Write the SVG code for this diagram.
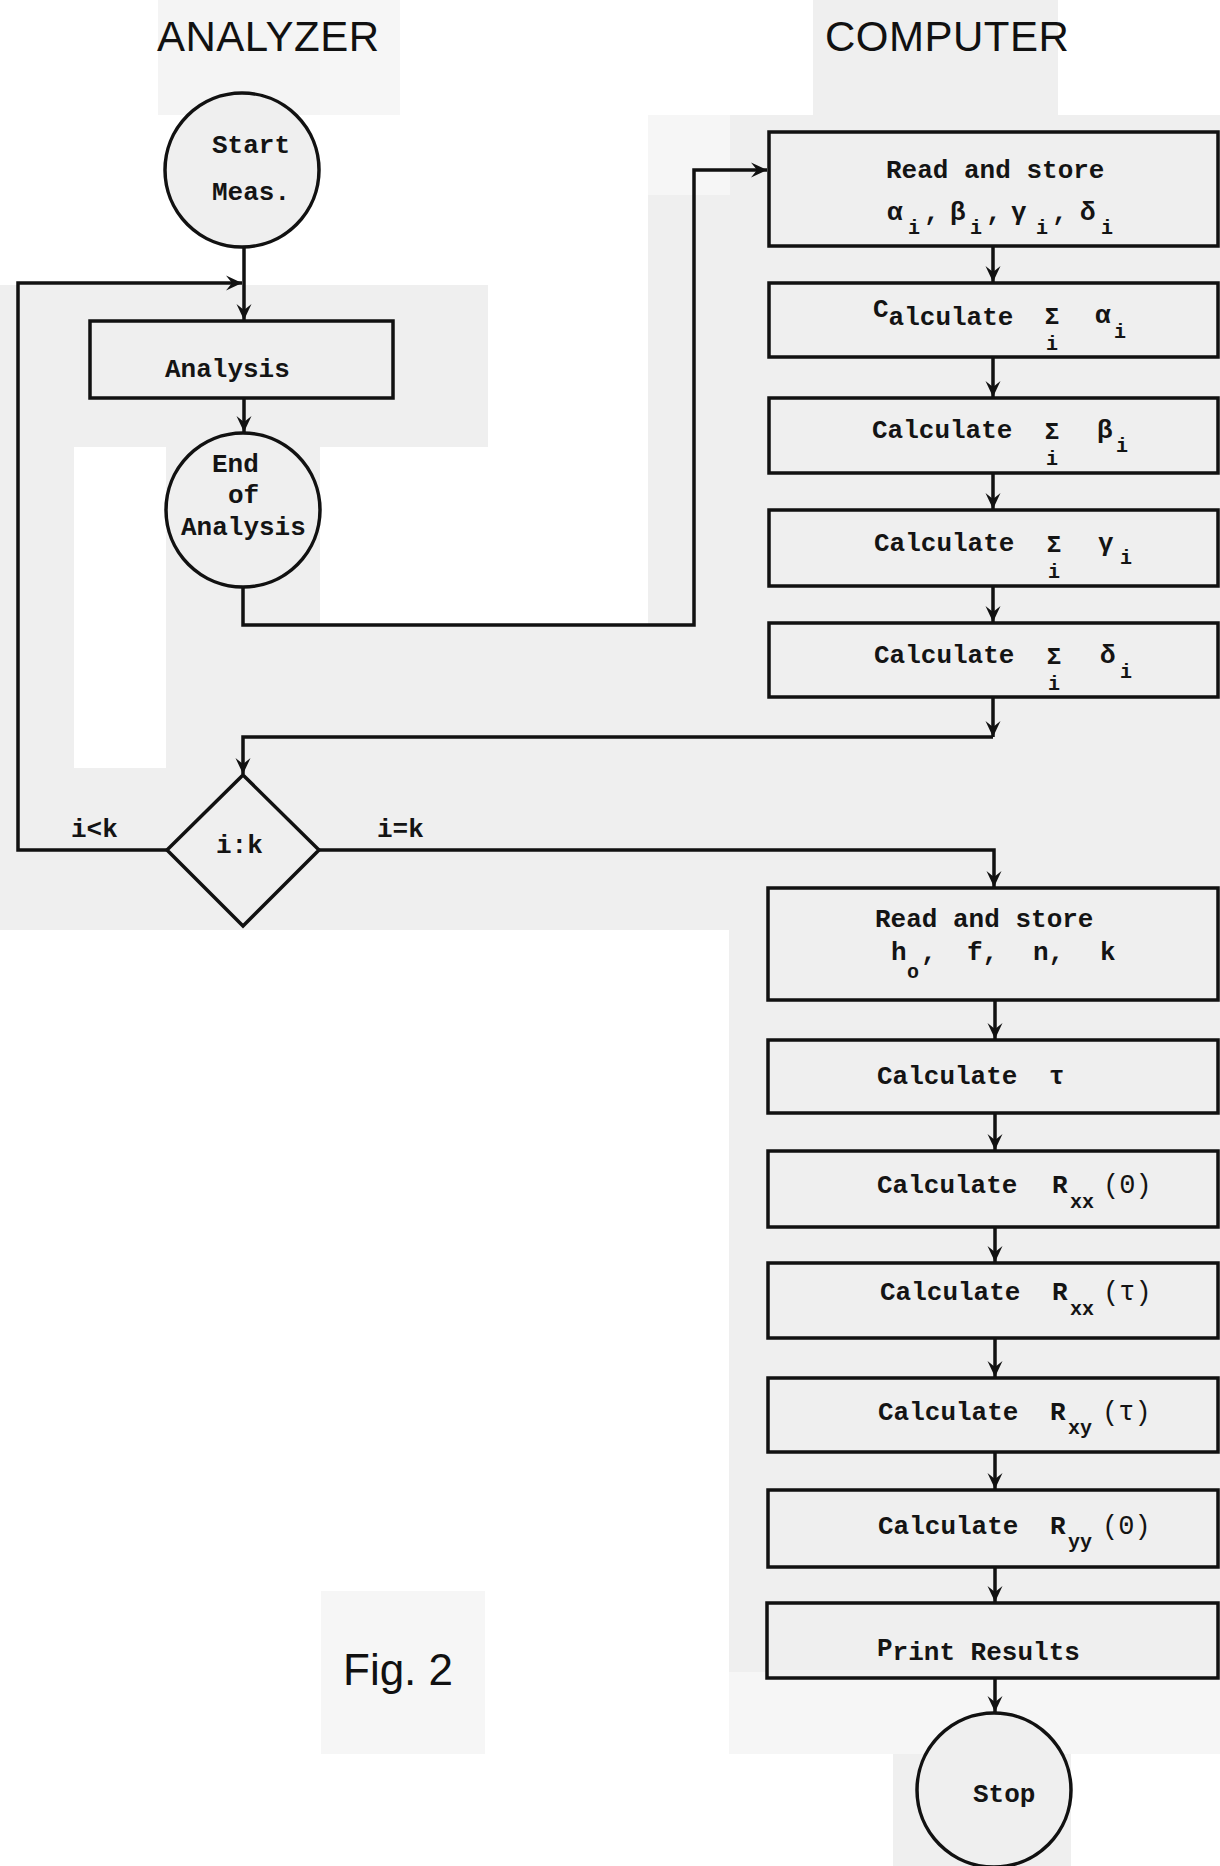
<svg xmlns="http://www.w3.org/2000/svg" width="1220" height="1866" viewBox="0 0 1220 1866">
<defs>
<style>
.bg{fill:#efefef}
.lg{fill:#f6f6f6}
.wb{fill:#ffffff}
.box{fill:#efefef;stroke:#111;stroke-width:3.5}
.ln{fill:none;stroke:#111;stroke-width:3.5}
.t{font-family:"Liberation Mono","DejaVu Sans Mono",monospace;font-size:26px;font-weight:bold;fill:#141414}
.s{font-family:"Liberation Mono","DejaVu Sans Mono",monospace;font-size:20px;font-weight:bold;fill:#141414}
.sg{font-family:"Liberation Mono","DejaVu Sans Mono",monospace;font-size:24px;font-weight:bold;fill:#141414}
.p{font-family:"Liberation Mono","DejaVu Sans Mono",monospace;font-size:27px;fill:#141414}
.h{font-family:"Liberation Sans","DejaVu Sans",sans-serif;font-size:42px;fill:#111;letter-spacing:0.5px}
</style>
<marker id="ah" viewBox="-17 -8 18 16" refX="0" refY="0" markerWidth="18" markerHeight="16" markerUnits="userSpaceOnUse" orient="auto">
<path d="M0,0 L-16,-7.5 L-10,0 L-16,7.5 Z" fill="#111"/>
</marker>
</defs>

<g id="background">
<rect x="0" y="0" width="1220" height="1866" class="wb"/>
<rect x="0" y="285" width="488" height="645" class="bg"/>
<rect x="74" y="447" width="92" height="321" class="wb"/>
<rect x="320" y="447" width="245" height="178" class="wb"/>
<rect x="320" y="625" width="420" height="305" class="bg"/>
<rect x="648" y="115" width="82" height="80" class="lg"/>
<rect x="648" y="195" width="572" height="735" class="bg"/>
<rect x="730" y="115" width="490" height="80" class="bg"/>
<rect x="729" y="930" width="491" height="742" class="bg"/>
<rect x="729" y="1672" width="491" height="82" class="lg"/>
<rect x="893" y="1754" width="178" height="112" class="bg"/>
<rect x="158" y="0" width="162" height="115" class="bg" opacity="0.7"/>
<rect x="320" y="0" width="80" height="115" class="lg"/>
<rect x="813" y="0" width="245" height="115" class="bg"/>
<rect x="321" y="1591" width="164" height="163" class="lg"/>
</g>

<g id="headers">
<text class="h" x="157" y="51">ANALYZER</text>
<text class="h" x="825" y="51">COMPUTER</text>
<text class="h" x="343" y="1685" style="font-size:44px;letter-spacing:0">Fig. 2</text>
</g>

<g id="connectors">
<line class="ln" x1="244" y1="247" x2="244" y2="320" marker-end="url(#ah)"/>
<path class="ln" d="M167,850 H18 V283 H242" marker-end="url(#ah)"/>
<line class="ln" x1="244" y1="398" x2="244" y2="432" marker-end="url(#ah)"/>
<path class="ln" d="M243,587 V625 H694 V170 H767" marker-end="url(#ah)"/>
<line class="ln" x1="993" y1="246" x2="993" y2="282" marker-end="url(#ah)"/>
<line class="ln" x1="993" y1="357" x2="993" y2="397" marker-end="url(#ah)"/>
<line class="ln" x1="993" y1="473" x2="993" y2="509" marker-end="url(#ah)"/>
<line class="ln" x1="993" y1="586" x2="993" y2="622" marker-end="url(#ah)"/>
<line class="ln" x1="993" y1="697" x2="993" y2="737" marker-end="url(#ah)"/>
<path class="ln" d="M993,737 H243 V774" marker-end="url(#ah)"/>
<path class="ln" d="M319,850 H994 V887" marker-end="url(#ah)"/>
<line class="ln" x1="995" y1="1000" x2="995" y2="1039" marker-end="url(#ah)"/>
<line class="ln" x1="995" y1="1113" x2="995" y2="1150" marker-end="url(#ah)"/>
<line class="ln" x1="995" y1="1227" x2="995" y2="1262" marker-end="url(#ah)"/>
<line class="ln" x1="995" y1="1338" x2="995" y2="1377" marker-end="url(#ah)"/>
<line class="ln" x1="995" y1="1452" x2="995" y2="1489" marker-end="url(#ah)"/>
<line class="ln" x1="995" y1="1567" x2="995" y2="1602" marker-end="url(#ah)"/>
<line class="ln" x1="995" y1="1678" x2="995" y2="1712" marker-end="url(#ah)"/>
<text class="t" x="71" y="837">i&lt;k</text>
<text class="t" x="377" y="837">i=k</text>
</g>

<g id="n-start">
<circle class="box" cx="242" cy="170" r="77"/>
<text class="t" x="212" y="153">Start</text>
<text class="t" x="212" y="200">Meas.</text>
</g>

<g id="n-analysis">
<rect class="box" x="90" y="321" width="303" height="77"/>
<text class="t" x="165" y="377">Analysis</text>
</g>

<g id="n-end">
<circle class="box" cx="243" cy="510" r="77"/>
<text class="t" x="212" y="472">End</text>
<text class="t" x="228" y="503">of</text>
<text class="t" x="181" y="535">Analysis</text>
</g>

<g id="n-decision">
<polygon class="box" points="243,775 319,850 243,926 167,850"/>
<text class="t" x="216" y="853">i:k</text>
</g>

<g id="n-read1">
<rect class="box" x="769" y="132" width="449" height="114"/>
<text class="t" x="886" y="178">Read and store</text>
<text class="t" x="887" y="220">α</text><text class="s" x="908" y="234">i</text><text class="t" x="924" y="220">,</text>
<text class="t" x="950" y="220">β</text><text class="s" x="970" y="234">i</text><text class="t" x="986" y="220">,</text>
<text class="t" x="1011" y="220">γ</text><text class="s" x="1036" y="234">i</text><text class="t" x="1052" y="220">,</text>
<text class="t" x="1080" y="220">δ</text><text class="s" x="1101" y="234">i</text>
</g>

<g id="n-sum-alpha">
<rect class="box" x="769" y="283" width="449" height="74"/>
<text class="t" x="873" y="325"><tspan dy="-8">C</tspan><tspan dy="8">alculate</tspan></text>
<text class="sg" x="1052" y="324" text-anchor="middle">Σ</text><text class="s" x="1052" y="350" text-anchor="middle">i</text>
<text class="t" x="1095" y="323">α</text><text class="s" x="1114" y="338">i</text>
</g>

<g id="n-sum-beta">
<rect class="box" x="769" y="398" width="449" height="75"/>
<text class="t" x="872" y="438">Calculate</text>
<text class="sg" x="1052" y="439" text-anchor="middle">Σ</text><text class="s" x="1052" y="465" text-anchor="middle">i</text>
<text class="t" x="1097" y="438">β</text><text class="s" x="1116" y="452">i</text>
</g>

<g id="n-sum-gamma">
<rect class="box" x="769" y="510" width="449" height="76"/>
<text class="t" x="874" y="551">Calculate</text>
<text class="sg" x="1054" y="552" text-anchor="middle">Σ</text><text class="s" x="1054" y="578" text-anchor="middle">i</text>
<text class="t" x="1098" y="551">γ</text><text class="s" x="1120" y="564">i</text>
</g>

<g id="n-sum-delta">
<rect class="box" x="769" y="623" width="449" height="74"/>
<text class="t" x="874" y="663">Calculate</text>
<text class="sg" x="1054" y="664" text-anchor="middle">Σ</text><text class="s" x="1054" y="690" text-anchor="middle">i</text>
<text class="t" x="1100" y="663">δ</text><text class="s" x="1120" y="678">i</text>
</g>

<g id="n-read2">
<rect class="box" x="768" y="888" width="450" height="112"/>
<text class="t" x="875" y="927">Read and store</text>
<text class="t" x="891" y="960">h</text><text class="s" x="907" y="978">o</text><text class="t" x="921" y="960">,</text>
<text class="t" x="967" y="960">f,</text>
<text class="t" x="1033" y="960">n,</text>
<text class="t" x="1100" y="960">k</text>
</g>

<g id="n-tau">
<rect class="box" x="768" y="1040" width="450" height="73"/>
<text class="t" x="877" y="1084">Calculate</text>
<text class="t" x="1049" y="1084">τ</text>
</g>

<g id="n-rxx0">
<rect class="box" x="768" y="1151" width="450" height="76"/>
<text class="t" x="877" y="1193">Calculate</text>
<text class="t" x="1052" y="1193">R</text><text class="s" x="1070" y="1208">xx</text><text class="p" x="1103" y="1193">(0)</text>
</g>

<g id="n-rxxt">
<rect class="box" x="768" y="1263" width="450" height="75"/>
<text class="t" x="880" y="1300">Calculate</text>
<text class="t" x="1052" y="1300">R</text><text class="s" x="1070" y="1315">xx</text><text class="p" x="1103" y="1300">(τ)</text>
</g>

<g id="n-rxyt">
<rect class="box" x="768" y="1378" width="450" height="74"/>
<text class="t" x="878" y="1420">Calculate</text>
<text class="t" x="1050" y="1420">R</text><text class="s" x="1068" y="1434">xy</text><text class="p" x="1102" y="1420">(τ)</text>
</g>

<g id="n-ryy0">
<rect class="box" x="768" y="1490" width="450" height="77"/>
<text class="t" x="878" y="1534">Calculate</text>
<text class="t" x="1050" y="1534">R</text><text class="s" x="1068" y="1548">yy</text><text class="p" x="1102" y="1534">(0)</text>
</g>

<g id="n-print">
<rect class="box" x="767" y="1603" width="451" height="75"/>
<text class="t" x="877" y="1660"><tspan dy="-4">P</tspan><tspan dy="4">rint Results</tspan></text>
</g>

<g id="n-stop">
<circle class="box" cx="994" cy="1790" r="77"/>
<text class="t" x="973" y="1802">Stop</text>
</g>
</svg>
